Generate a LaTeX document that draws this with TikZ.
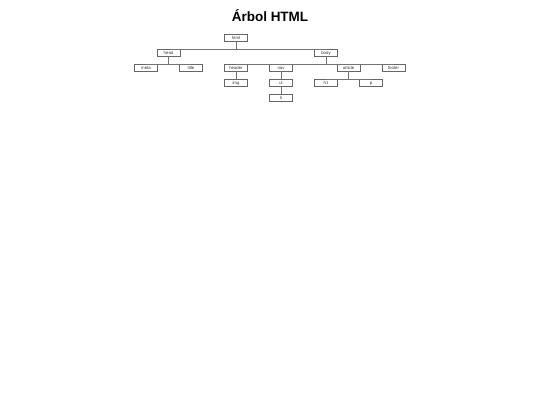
\documentclass[tikz,border=0pt]{standalone}
\usepackage{fontspec}
\setmainfont{Liberation Sans}
\usetikzlibrary{positioning}

% rama: padre -> hijos (barra sobre los hijos)
\newcommand{\rama}[3]{%
  \draw[link] (#1.south) -- (#1.south |- #2.north);
  \draw[link] (#2.north) -- (#3.north);}

\begin{document}
\begin{tikzpicture}[
      x=1pt, y=1pt,
      node distance=15pt and 22.5pt, on grid,
      tag/.style={draw=black!60, line width=0.35pt, minimum width=23pt, minimum height=6.8pt,
        inner sep=0pt, text height=4.2pt, text depth=0.4pt, text=black!80,
        font=\fontsize{4.3}{5}\selectfont},
      link/.style={draw=black!55, line width=0.35pt},
      heading/.style={font=\fontsize{13.5}{16}\selectfont\bfseries},
    ]
    \useasboundingbox (0,0) rectangle (540,-405);
    \node[heading] (titulo) at (270,-16) {Árbol HTML};

    % Nodes
    \node[tag] (html) at (236,-37.5) {html};
    \node[tag, below left=15pt and 67.5pt of html] (head) {head};
    \node[tag, below right=15pt and 90pt of html] (body) {body};

    \node[tag, below left=15pt and 22.5pt of head] (meta) {meta};
    \node[tag, below right=15pt and 22.5pt of head] (title) {title};
    \node[tag, below left=15pt and 90pt of body] (header) {header};
    \node[tag, below left=15pt and 45pt of body] (nav) {nav};
    \node[tag, below right=15pt and 22.5pt of body] (article) {article};
    \node[tag, below right=15pt and 67.5pt of body] (footer) {footer};

    \node[tag, below=of header] (img) {img};
    \node[tag, below=of nav] (ul) {ul};
    \node[tag, below left=15pt and 22.5pt of article] (h1) {h1};
    \node[tag, below right=15pt and 22.5pt of article] (p) {p};
    \node[tag, below=of ul] (li) {li};

    % Links
    \rama{html}{head}{body}
    \rama{head}{meta}{title}
    \rama{body}{header}{footer}
    \rama{article}{h1}{p}
    \draw[link] (header) -- (img);
    \draw[link] (nav) -- (ul);
    \draw[link] (ul) -- (li);
  \end{tikzpicture}
\end{document}
